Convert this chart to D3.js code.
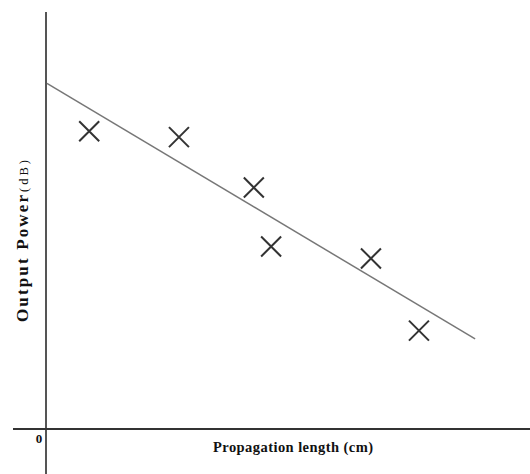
<!DOCTYPE html>
<html>
<head>
<meta charset="utf-8">
<title>Output power vs propagation length</title>
<script src="https://cdn.jsdelivr.net/npm/d3@7/dist/d3.min.js"></script>
<style>
  body { margin: 0; background: #fff; }
  text { font-family: "Liberation Serif", "DejaVu Serif", serif; fill: #111; }
</style>
</head>
<body>
<script>
var width = 530, height = 474;

// measured points (arbitrary units)
var lengths = [0.9, 2.77, 4.33, 4.69, 6.77, 7.77];
var powers  = [7.14, 7.0, 5.79, 4.375, 4.09, 2.36];
// fitted line end points
var fitX = [0.02, 8.94];
var fitY = [8.29, 2.16];

var x = d3.scaleLinear().domain([0, 10]).range([46, 526]),
    y = d3.scaleLinear().domain([0, 10]).range([429, 12]);

var svg = d3.select("body").append("svg")
    .attr("width", width).attr("height", height);

// axes
svg.append("line")
    .attr("x1", x(0)).attr("x2", x(0))
    .attr("y1", y(10)).attr("y2", height)
    .attr("stroke", "#555").attr("stroke-width", 2);
svg.append("line")
    .attr("x1", 13).attr("x2", width)
    .attr("y1", y(0)).attr("y2", y(0))
    .attr("stroke", "#333").attr("stroke-width", 2);

// fit line
var line = d3.line()
    .x(function(d) { return x(d[0]); })
    .y(function(d) { return y(d[1]); });
svg.append("path")
    .attr("d", line(d3.zip(fitX, fitY)))
    .attr("fill", "none")
    .attr("stroke", "#777")
    .attr("stroke-width", 1.5);

// cross markers
var s = 10;
svg.selectAll("path.mark")
    .data(d3.zip(lengths, powers))
    .enter().append("path")
    .attr("class", "mark")
    .attr("d", function(d) {
        var cx = x(d[0]), cy = y(d[1]);
        return "M" + (cx - s) + "," + (cy - s) + "L" + (cx + s) + "," + (cy + s) +
               "M" + (cx - s) + "," + (cy + s) + "L" + (cx + s) + "," + (cy - s);
    })
    .attr("stroke", "#333")
    .attr("stroke-width", 2)
    .attr("fill", "none");

// labels
svg.append("text")
    .attr("x", 39).attr("y", 443)
    .attr("text-anchor", "middle")
    .style("font-size", "13px").style("font-weight", "bold")
    .text("0");

svg.append("text")
    .attr("x", 213).attr("y", 452)
    .attr("textLength", 160).attr("lengthAdjust", "spacing")
    .style("font-size", "14.5px").style("font-weight", "bold")
    .text("Propagation length (cm)");

svg.append("text")
    .attr("transform", "translate(28,322) rotate(-90)")
    .attr("textLength", 127).attr("lengthAdjust", "spacing")
    .style("font-size", "17px").style("font-weight", "bold")
    .text("Output Power");
svg.append("text")
    .attr("transform", "translate(28,192) rotate(-90)")
    .attr("textLength", 32).attr("lengthAdjust", "spacing")
    .style("font-size", "12.5px")
    .text("(dB)");
</script>
</body>
</html>
